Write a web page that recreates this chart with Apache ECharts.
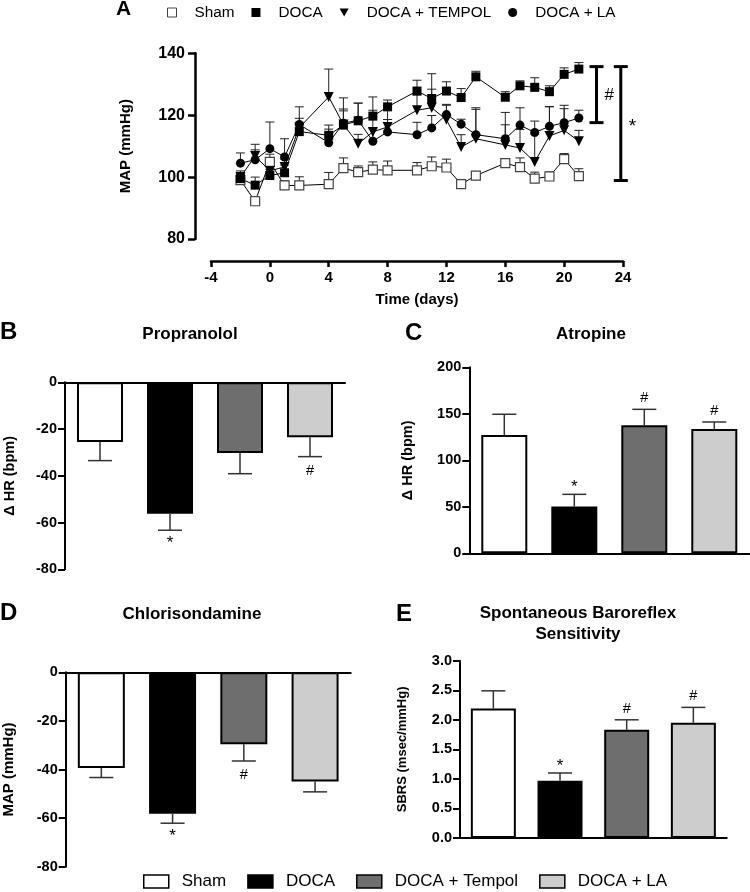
<!DOCTYPE html>
<html><head><meta charset="utf-8">
<script src="https://cdn.jsdelivr.net/npm/echarts/dist/echarts.min.js"></script>
<style>html,body{margin:0;padding:0;background:#fff}#c{width:750px;height:892px}</style>
</head><body><div id="c"></div>
<script>
// ---------- Panel A data (MAP time course) ----------
const days = [-2, -1, 0, 1, 2, 4, 5, 6, 7, 8, 10, 11, 12, 13, 14, 16, 17, 18, 19, 20, 21];
const xTicks = [-4, 0, 4, 8, 12, 16, 20, 24];
const yTicksA = [80, 100, 120, 140];
const shamMAP    = [99.0, 92.2, 104.9, 97.3, 97.3, 97.7, 102.9, 101.6, 102.4, 102.2, 102.2, 103.5, 103.1, 97.7, 100.5, 104.5, 103.2, 99.5, 100.2, 105.8, 100.3];
const shamSEM    = [1.5, 1.5, 2.5, 1.5, 2.8, 3.8, 3.3, 2.0, 2.5, 3.0, 2.5, 3.0, 2.7, 1.0, 1.0, 1.3, 3.0, 2.1, 1.5, 1.8, 2.4];
const docaMAP    = [99.5, 97.4, 100.5, 101.4, 114.7, 113.5, 116.8, 118.2, 119.7, 122.7, 127.8, 125.4, 127.8, 125.7, 132.4, 125.8, 129.5, 129.0, 127.6, 133.2, 134.9];
const docaSEM    = [1.6, 2.6, 2.0, 2.5, 2.5, 3.3, 8.8, 5.7, 6.2, 2.2, 3.5, 8.0, 3.0, 2.9, 1.8, 1.8, 1.6, 3.1, 1.9, 2.1, 2.1];
const tempolMAP  = [100.0, 106.8, 102.0, 103.3, 116.0, 125.9, 117.0, 110.8, 114.6, 116.2, 121.6, 122.4, 118.5, 109.7, 112.4, 110.4, 109.4, 104.9, 113.3, 115.1, 111.6];
const tempolSEM  = [2.0, 2.0, 2.0, 2.5, 3.0, 9.0, 5.0, 3.0, 7.0, 7.0, 5.0, 6.0, 5.0, 4.0, 9.5, 6.5, 6.0, 9.0, 9.5, 7.0, 3.5];
const laMAP      = [104.5, 105.6, 109.2, 106.5, 117.0, 111.1, 117.4, 118.4, 111.6, 114.6, 113.7, 115.9, 120.2, 117.1, 113.7, 112.4, 116.8, 114.4, 116.4, 117.6, 119.1];
const laSEM      = [3.3, 5.0, 8.6, 5.9, 5.7, 4.4, 4.0, 5.5, 4.0, 4.0, 4.0, 4.0, 3.0, 1.6, 8.7, 8.5, 5.6, 3.7, 6.3, 5.6, 2.5];
const lineNames  = ['Sham', 'DOCA', 'DOCA + TEMPOL', 'DOCA + LA'];
// significance brackets in panel A: [day, low MAP, high MAP]
const bracketPos = [[22.2, 117.6, 135.7], [23.85, 98.9, 135.7]];
const bracketMarks = ['#', '*'];

// ---------- Bar panels data ----------
const groups = ['Sham', 'DOCA', 'DOCA + Tempol', 'DOCA + LA'];
const propranolol = [-25.5, -56.2, -30.2, -23.5];
const propranololSEM = [8.0, 7.1, 8.9, 8.3];
const propranololSig = ['', '*', '', '#'];
const atropine = [127.2, 50.2, 137.6, 133.7];
const atropineSEM = [22.3, 13.2, 17.2, 7.5];
const atropineSig = ['', '*', '#', '#'];
const chlorisondamine = [-39.4, -58.2, -29.6, -44.9];
const chlorisondamineSEM = [3.9, 3.9, 6.9, 4.3];
const chlorisondamineSig = ['', '*', '#', ''];
const sbrs = [2.19, 0.97, 1.83, 1.95];
const sbrsSEM = [0.30, 0.13, 0.17, 0.26];
const sbrsSig = ['', '*', '#', '#'];

const FONT = '"Liberation Sans", Arial, Helvetica, sans-serif';
const barFill = ['#ffffff', '#000000', '#6e6e6e', '#cdcdcd'];

const grids = [
  {left: 211, top: 53.3, width: 412, height: 185.7},
  {left: 65, top: 382.3, width: 280, height: 187},
  {left: 469.3, top: 367.3, width: 280, height: 186},
  {left: 65.7, top: 672.3, width: 285, height: 194.4},
  {left: 460, top: 660.7, width: 266.7, height: 177.3}
];

const boldTxt = (s) => ({color: '#000', fontWeight: 'bold', fontSize: s, fontFamily: FONT});

// ----- axes -----
const xAxes = [{
  gridIndex: 0, type: 'value', min: xTicks[0], max: xTicks[xTicks.length - 1], interval: 4, offset: 22,
  axisLine: {show: true, onZero: false, lineStyle: {color: '#000', width: 2.5}},
  axisTick: {show: true, length: 6, lineStyle: {color: '#000', width: 2.5}},
  axisLabel: Object.assign(boldTxt(15), {margin: 9}),
  splitLine: {show: false},
  name: 'Time (days)', nameLocation: 'middle', nameGap: 31, nameTextStyle: boldTxt(15)
}];
const yAxes = [{
  gridIndex: 0, type: 'value', min: yTicksA[0], max: yTicksA[yTicksA.length - 1], interval: 20, offset: 16,
  axisLine: {show: true, onZero: false, lineStyle: {color: '#000', width: 2.5}},
  axisTick: {show: true, length: 7, lineStyle: {color: '#000', width: 2.5}},
  axisLabel: Object.assign(boldTxt(16), {margin: 10}),
  splitLine: {show: false},
  name: 'MAP (mmHg)', nameLocation: 'middle', nameGap: 62, nameTextStyle: boldTxt(15)
}];

const barPanels = [
  {vals: propranolol, sem: propranololSEM, sig: propranololSig, min: -80, max: 0, interval: 20, name: '\u0394 HR (bpm)', gap: 48, nameSize: 14.5, bw: 46, dec: 0},
  {vals: atropine, sem: atropineSEM, sig: atropineSig, min: 0, max: 200, interval: 50, name: '\u0394 HR (bpm)', gap: 54, nameSize: 14.5, bw: 46, dec: 0},
  {vals: chlorisondamine, sem: chlorisondamineSEM, sig: chlorisondamineSig, min: -80, max: 0, interval: 20, name: 'MAP (mmHg)', gap: 49, nameSize: 15, bw: 47, dec: 0},
  {vals: sbrs, sem: sbrsSEM, sig: sbrsSig, min: 0, max: 3, interval: 0.5, name: 'SBRS (msec/mmHg)', gap: 51, nameSize: 13, bw: 45, dec: 1}
];

barPanels.forEach((p, k) => {
  const gi = k + 1;
  xAxes.push({
    gridIndex: gi, type: 'category', data: groups,
    axisLine: {show: true, onZero: true, lineStyle: {color: '#000', width: 2}},
    axisTick: {show: false}, axisLabel: {show: false}, splitLine: {show: false}
  });
  yAxes.push({
    gridIndex: gi, type: 'value', min: p.min, max: p.max, interval: p.interval,
    axisLine: {show: true, onZero: false, lineStyle: {color: '#000', width: 2}},
    axisTick: {show: true, length: 7, lineStyle: {color: '#000', width: 2}},
    axisLabel: Object.assign(boldTxt(14.5), {margin: 8, formatter: (v) => v.toFixed(p.dec)}),
    splitLine: {show: false},
    name: p.name, nameLocation: 'middle', nameGap: p.gap, nameTextStyle: boldTxt(p.nameSize)
  });
});

// ----- series -----
const series = [];
const lineSets = [
  {name: lineNames[0], vals: shamMAP, sem: shamSEM, symbol: 'rect', size: 9, fill: '#fff', border: '#444', bw: 1.2, rot: 0},
  {name: lineNames[1], vals: docaMAP, sem: docaSEM, symbol: 'rect', size: 9, fill: '#000', border: '#000', bw: 0, rot: 0},
  {name: lineNames[2], vals: tempolMAP, sem: tempolSEM, symbol: 'triangle', size: 10, fill: '#000', border: '#000', bw: 0, rot: 180},
  {name: lineNames[3], vals: laMAP, sem: laSEM, symbol: 'circle', size: 9, fill: '#000', border: '#000', bw: 0, rot: 0}
];

// error bars for time course (upward)
lineSets.forEach((s) => {
  series.push({
    type: 'custom', xAxisIndex: 0, yAxisIndex: 0, z: 2, silent: true,
    data: days.map((d, i) => [d, s.vals[i], s.sem[i]]),
    encode: {x: 0, y: 1},
    renderItem: (params, api) => {
      const x = api.value(0), v = api.value(1), e = api.value(2);
      const p0 = api.coord([x, v]), p1 = api.coord([x, v + e]);
      const st = {stroke: '#222', lineWidth: 1};
      return {type: 'group', children: [
        {type: 'line', shape: {x1: p0[0], y1: p0[1], x2: p1[0], y2: p1[1]}, style: st},
        {type: 'line', shape: {x1: p1[0] - 4.5, y1: p1[1], x2: p1[0] + 4.5, y2: p1[1]}, style: st}
      ]};
    }
  });
});
lineSets.forEach((s) => {
  series.push({
    type: 'line', name: s.name, xAxisIndex: 0, yAxisIndex: 0, z: 3,
    data: days.map((d, i) => [d, s.vals[i]]),
    symbol: s.symbol, symbolSize: s.size, symbolRotate: s.rot, showAllSymbol: true,
    lineStyle: {color: '#000', width: 1},
    itemStyle: {color: s.fill, borderColor: s.border, borderWidth: s.bw, opacity: 1}
  });
});
// brackets
series.push({
  type: 'custom', xAxisIndex: 0, yAxisIndex: 0, z: 4, silent: true, clip: false,
  data: bracketPos.map((b, i) => [b[0], b[1], b[2], i]),
  encode: {x: 0, y: 1},
  renderItem: (params, api) => {
    const x = api.value(0), lo = api.value(1), hi = api.value(2), idx = api.value(3);
    const pt = api.coord([x, hi]), pb = api.coord([x, lo]);
    const st = {stroke: '#000', lineWidth: 3};
    const mark = bracketMarks[idx];
    return {type: 'group', children: [
      {type: 'line', shape: {x1: pt[0], y1: pt[1], x2: pb[0], y2: pb[1]}, style: st},
      {type: 'line', shape: {x1: pt[0] - 7, y1: pt[1], x2: pt[0] + 7, y2: pt[1]}, style: st},
      {type: 'line', shape: {x1: pb[0] - 7, y1: pb[1], x2: pb[0] + 7, y2: pb[1]}, style: st},
      {type: 'text', x: pt[0] + 8, y: (pt[1] + pb[1]) / 2 + (mark === '*' ? 3 : 1),
        style: {text: mark, fill: '#000', fontSize: mark === '*' ? 19 : 17, fontFamily: FONT, textAlign: 'left', textVerticalAlign: 'middle'}}
    ]};
  }
});

barPanels.forEach((p, k) => {
  const gi = k + 1;
  groups.forEach((g, j) => {
    series.push({
      type: 'bar', name: g, xAxisIndex: gi, yAxisIndex: gi, z: 2,
      data: groups.map((_, m) => (m === j ? p.vals[m] : '-')),
      barWidth: p.bw, barGap: '-100%',
      itemStyle: {color: barFill[j], borderColor: '#000', borderWidth: 2}
    });
  });
  series.push({
    type: 'custom', xAxisIndex: gi, yAxisIndex: gi, z: 5, silent: true, clip: false,
    data: groups.map((_, m) => [m, p.vals[m], p.sem[m], m]),
    encode: {x: 0, y: 1},
    renderItem: (params, api) => {
      const x = api.value(0), v = api.value(1), e = api.value(2), m = api.value(3);
      const dir = v < 0 ? -1 : 1;
      const p0 = api.coord([x, v]), p1 = api.coord([x, v + dir * e]);
      const st = {stroke: '#333', lineWidth: 1.5};
      const ch = [
        {type: 'line', shape: {x1: p0[0], y1: p0[1], x2: p1[0], y2: p1[1]}, style: st},
        {type: 'line', shape: {x1: p1[0] - 12, y1: p1[1], x2: p1[0] + 12, y2: p1[1]}, style: st}
      ];
      const mark = p.sig[m];
      if (mark) {
        let y;
        if (dir < 0) y = p1[1] + (mark === '*' ? 13 : 14);
        else y = p1[1] - (mark === '*' ? 7 : 11);
        ch.push({type: 'text', x: p1[0], y: y,
          style: {text: mark, fill: '#000', fontSize: mark === '*' ? 17 : 14.5, fontFamily: FONT, textAlign: 'center', textVerticalAlign: 'middle'}});
      }
      return {type: 'group', children: ch};
    }
  });
});

// ----- titles (panel letters & headings) -----
const titles = [
  {text: 'A', left: 116, top: -1, textStyle: boldTxt(21)},
  {text: 'B', left: 0, top: 320, textStyle: boldTxt(24)},
  {text: 'C', left: 405, top: 321, textStyle: boldTxt(24)},
  {text: 'D', left: 0, top: 601, textStyle: boldTxt(24)},
  {text: 'E', left: 396, top: 602, textStyle: boldTxt(24)},
  {text: 'Propranolol', left: 190, top: 326, textAlign: 'center', textStyle: boldTxt(17)},
  {text: 'Atropine', left: 591, top: 326, textAlign: 'center', textStyle: boldTxt(17)},
  {text: 'Chlorisondamine', left: 192, top: 606, textAlign: 'center', textStyle: boldTxt(17)},
  {text: 'Spontaneous Baroreflex\nSensitivity', left: 578, top: 603, textAlign: 'center', textStyle: Object.assign(boldTxt(17), {lineHeight: 21})}
].map(t => Object.assign({padding: 0}, t));

const legends = [
  {
    left: 167, top: 5, padding: 0, itemWidth: 9, itemHeight: 9, itemGap: 17, selectedMode: false,
    textStyle: {color: '#000', fontSize: 15.3, fontFamily: FONT, padding: [0, 0, 0, 13]},
    data: [
      {name: lineNames[0], icon: 'rect', itemStyle: {color: '#fff', borderColor: '#444', borderWidth: 1}},
      {name: lineNames[1], icon: 'rect', itemStyle: {color: '#000', borderWidth: 0}},
      {name: lineNames[2], icon: 'path://M0,0L10,0L5,9Z', itemStyle: {color: '#000', borderWidth: 0}},
      {name: lineNames[3], icon: 'circle', itemStyle: {color: '#000', borderWidth: 0}}
    ]
  },
  {
    left: 143, top: 873, padding: 0, itemWidth: 25, itemHeight: 13, itemGap: 21, selectedMode: false,
    textStyle: {color: '#000', fontSize: 17, fontFamily: FONT, padding: [0, 0, 0, 8]},
    data: groups.map((g, j) => ({name: g, icon: 'rect', itemStyle: {color: barFill[j], borderColor: '#000', borderWidth: 1.5}}))
  }
];

const chart = echarts.init(document.getElementById('c'), null, {renderer: 'canvas'});
chart.setOption({
  animation: false,
  backgroundColor: '#fff',
  textStyle: {fontFamily: FONT},
  title: titles,
  legend: legends,
  grid: grids,
  xAxis: xAxes,
  yAxis: yAxes,
  series: series
});
</script></body></html>
